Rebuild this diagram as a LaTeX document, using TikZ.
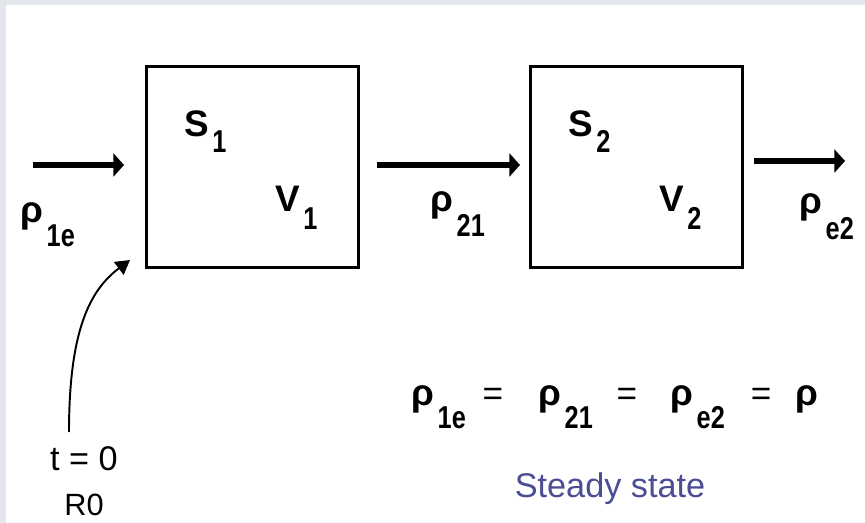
\documentclass[tikz,border=0pt]{standalone}
\usepackage{fontspec}
\setmainfont{Liberation Sans}
\usepackage{tikz}
\usetikzlibrary{arrows.meta}
\definecolor{panel}{HTML}{E4E6EE}
\definecolor{slateblue}{HTML}{4B4E94}

% symbol with a dropped, narrow subscript
\newcommand{\withsub}[3]{#1\kern2pt\raisebox{-#3}{\scalebox{0.8}[1]{\fontsize{18}{20}\selectfont\bfseries #2}}}

\begin{document}
\begin{tikzpicture}[x=0.02cm, y=-0.02cm,
  tank/.style={draw, line width=2pt, minimum width=4.24cm, minimum height=4.02cm, inner sep=0pt},
  flow/.style={-{Triangle[length=6pt,width=13pt]}, line width=3.8pt},
  start/.style={-{Triangle[length=8pt,width=9pt]}, line width=1.1pt},
  sym/.style={anchor=base west, inner sep=0pt, font=\fontsize{21}{24}\selectfont\bfseries},
  eqsign/.style={anchor=base, inner sep=0pt, font=\fontsize{20}{24}\selectfont},
  label/.style={anchor=base, inner sep=0pt, font=\fontsize{17.5}{21}\selectfont}
]
\useasboundingbox (0,0) rectangle (865,523);
\fill[panel] (0,0) rectangle (865,523);
\fill[white] (6,5) rectangle (865,523);

\node[tank] (box1) at (252.5,167) {};
\node[tank] (box2) at (636.5,167) {};

\coordinate (inA) at (33,165);
\coordinate (inB) at (124,165);
\coordinate (midA) at (377,165);
\coordinate (midB) at (520,165);
\coordinate (outA) at (754,161);
\coordinate (outB) at (845,161);

\draw[flow] (inA) -- (inB);
\draw[flow] (midA) -- (midB);
\draw[flow] (outA) -- (outB);

\node[sym] (rho1e) at (20,223) {\withsub{ρ}{1e}{13.5pt}};
\node[sym] (s1) at (184,137) {\withsub{S}{1}{9pt}};
\node[sym] (v1) at (275,212) {\withsub{V}{1}{10pt}};
\node[sym] (rho21) at (430,212) {\withsub{ρ}{21}{14pt}};
\node[sym] (s2) at (568,137) {\withsub{S}{2}{9pt}};
\node[sym] (v2) at (659,212) {\withsub{V}{2}{10pt}};
\node[sym] (rhoe2) at (799,214) {\withsub{ρ}{e2}{14.5pt}};

% steady state relation
\node[sym] (eq1) at (411,405) {\withsub{ρ}{1e}{13.5pt}};
\node[eqsign] (eqs1) at (493,405) {=};
\node[sym] (eq2) at (538,405) {\withsub{ρ}{21}{13.5pt}};
\node[eqsign] (eqs2) at (627,405) {=};
\node[sym] (eq3) at (670,405) {\withsub{ρ}{e2}{13.5pt}};
\node[eqsign] (eqs3) at (761,405) {=};
\node[sym] (eq4) at (795,405) {ρ};

\node[label, font=\fontsize{19.5}{23}\selectfont] (t0) at (84,470) {t = 0};
\node[label] (r0) at (84,515) {R0};
\coordinate (kickA) at (69,432);
\coordinate (kickB) at (130,260);
\draw[start] (kickA) .. controls (69,330) and (90,290) .. (kickB);

\node[label, font=\fontsize{19.5}{23}\selectfont, text=slateblue] (steady) at (610,497) {Steady state};
\end{tikzpicture}
\end{document}
